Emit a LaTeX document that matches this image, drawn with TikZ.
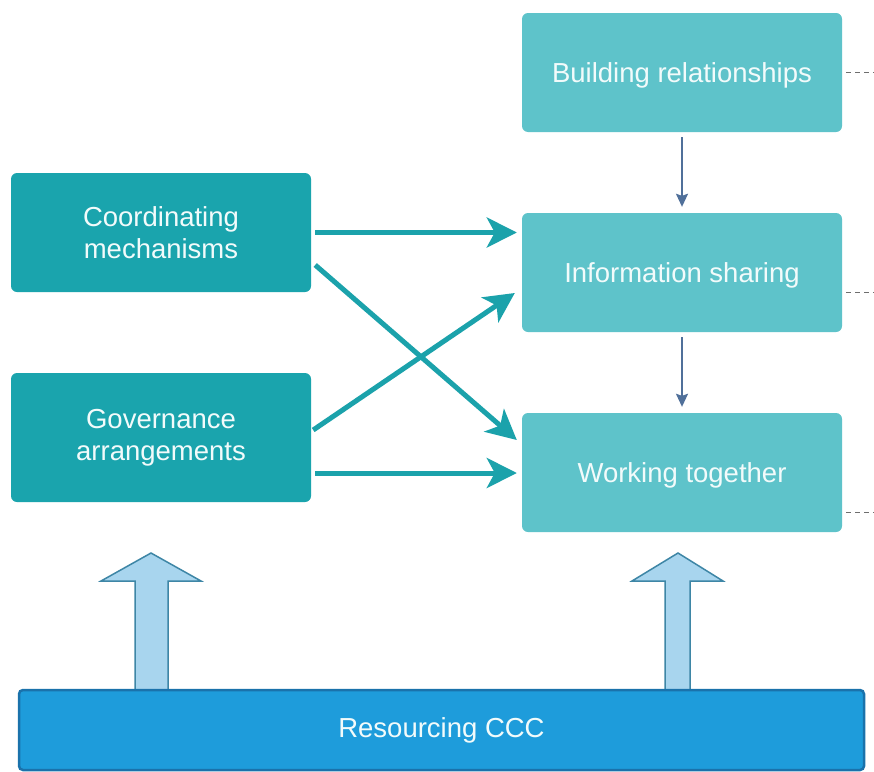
\documentclass[tikz,border=0pt]{standalone}
\usepackage{fontspec}
\setmainfont{Liberation Sans}
\usetikzlibrary{calc,arrows.meta}

\definecolor{tealdark}{HTML}{1AA4AD}
\definecolor{teallight}{HTML}{5EC3CA}
\definecolor{tealarrow}{HTML}{1BA2AB}
\definecolor{flowblue}{HTML}{50709A}
\definecolor{trailgrey}{HTML}{6E6E6E}
\definecolor{barfill}{HTML}{1E9CDB}
\definecolor{barline}{HTML}{1A72AB}
\definecolor{upfill}{HTML}{A8D5EE}
\definecolor{upline}{HTML}{3E86A6}
\definecolor{textwhite}{HTML}{F2FBFB}

\begin{document}
\begin{tikzpicture}[x=1pt,y=-1pt,
  box/.style={rectangle, rounded corners=6pt, text=textwhite, align=center,
    font=\fontsize{27.5}{32.5}\selectfont, inner sep=0pt},
  causebox/.style={box, fill=tealdark, minimum width=300pt},
  stagebox/.style={box, fill=teallight, minimum width=320pt, minimum height=119pt, text depth=0pt},
  basebar/.style={box, fill=barfill, draw=barline, line width=2.5pt, rounded corners=4pt,
    minimum width=845pt, minimum height=80pt},
  link/.style={tealarrow, line width=5pt, -{Stealth[length=30pt,width=30pt,inset=8pt]}},
  flow/.style={flowblue, line width=1.6pt, -{Stealth[length=13pt,width=12pt,inset=2pt]}},
  trail/.style={trailgrey, line width=1.4pt, dash pattern=on 5pt off 4pt},
  upblock/.style={fill=upfill, draw=upline, line width=1.5pt, line join=miter}
]
\useasboundingbox[fill=white] (0,0) rectangle (874,771);

% left-hand drivers
\node[causebox, minimum height=119pt] (coord) at (161,232.5) {Coordinating\\mechanisms};
\node[causebox, minimum height=129pt] (gov) at (161,437.5) {Governance\\arrangements};

% stages of collaboration
\node[stagebox] (build) at (682,72.5) {Building relationships};
\node[stagebox] (info) at (682,272.5) {Information sharing};
\node[stagebox] (work) at (682,472.5) {Working together};

% loose ends of the dashed leaders
\coordinate (e1) at (874,72.5);
\coordinate (e2) at (874,292.5);
\coordinate (e3) at (874,512.5);

% drivers feeding the stages
\draw[link] ($(coord.east)+(4,0)$) -- ($(info.west)+(-5,-40)$);
\draw[link] ($(coord.east)+(4,32.5)$) -- ($(work.west)+(-5,-32.5)$);
\draw[link] ($(gov.east)+(2,-7.5)$) -- ($(info.west)+(-7,20.5)$);
\draw[link] ($(gov.east)+(4,35.5)$) -- ($(work.west)+(-5,0.5)$);

% progression between stages
\draw[flow] ($(build.south)+(0,5)$) -- ($(info.north)+(0,-6)$);
\draw[flow] ($(info.south)+(0,5)$) -- ($(work.north)+(0,-6)$);

% dashed leaders to the right
\draw[trail] ($(build.east)+(4,0)$) -- (e1);
\draw[trail] ($(info.east)+(4,20)$) -- (e2);
\draw[trail] ($(work.east)+(4,40)$) -- (e3);

% block arrows rising from the resourcing bar
\draw[upblock] (135,691) -- (135,581) -- (101,581) -- (151,553) -- (201,581) -- (168,581) -- (168,691);
\draw[upblock] (665,691) -- (665,581) -- (632,581) -- (678,553) -- (723,581) -- (690,581) -- (690,691);

% resourcing bar
\node[basebar] (res) at (441.5,730) {Resourcing CCC};
\end{tikzpicture}
\end{document}
